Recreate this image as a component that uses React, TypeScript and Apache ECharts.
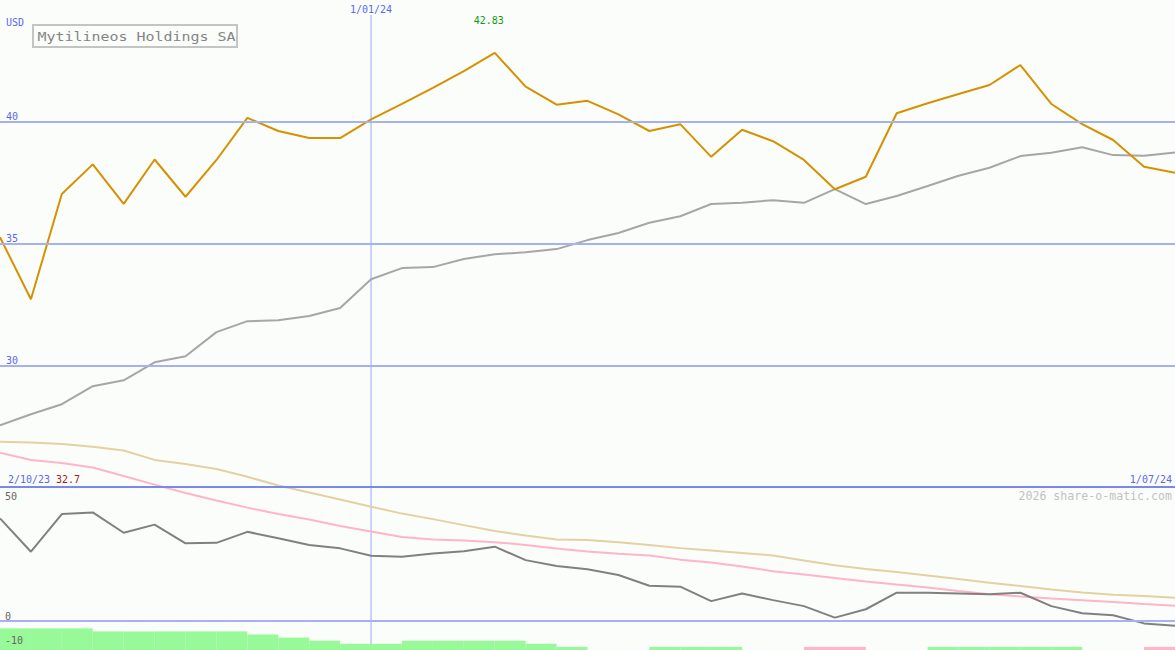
import React, { useEffect, useRef } from "react";
import * as echarts from "echarts";

// Weekly points
const dates: string[] = [
  "9/10/23", "16/10/23", "23/10/23", "30/10/23", "6/11/23", "13/11/23", "20/11/23", "27/11/23",
  "4/12/23", "11/12/23", "18/12/23", "25/12/23", "1/01/24", "8/01/24", "15/01/24", "22/01/24",
  "29/01/24", "5/02/24", "12/02/24", "19/02/24", "26/02/24", "4/03/24", "11/03/24", "18/03/24",
  "25/03/24", "1/04/24", "8/04/24", "15/04/24", "22/04/24", "29/04/24", "6/05/24", "13/05/24",
  "20/05/24", "27/05/24", "3/06/24", "10/06/24", "17/06/24", "24/06/24", "1/07/24",
];
const startLabel = "2/10/23";
const markIndex = 12;

// Price (USD)
const price: number[] = [
  35.26, 32.71, 37.03, 38.25, 36.63, 38.45, 36.92, 38.43, 40.16, 39.62,
  39.33, 39.33, 40.10, 40.73, 41.39, 42.08, 42.83, 41.44, 40.70, 40.86,
  40.30, 39.62, 39.90, 38.56, 39.67, 39.20, 38.43, 37.23, 37.74, 40.35,
  40.76, 41.14, 41.51, 42.33, 40.73, 39.90, 39.25, 38.15, 37.90,
];
// Moving average of price
const priceMA: number[] = [
  27.53, 27.99, 28.40, 29.14, 29.38, 30.12, 30.37, 31.36, 31.81, 31.85,
  32.02, 32.35, 33.53, 33.99, 34.03, 34.36, 34.56, 34.64, 34.77, 35.14,
  35.43, 35.85, 36.12, 36.62, 36.67, 36.78, 36.67, 37.23, 36.62, 36.95,
  37.36, 37.78, 38.11, 38.59, 38.73, 38.95, 38.63, 38.60, 38.74,
];
// Lower panel indicator
const oscillator: number[] = [
  42.9, 29.0, 44.7, 45.4, 36.9, 40.3, 32.5, 32.7, 37.3, 34.6,
  31.8, 30.4, 27.3, 26.9, 28.3, 29.2, 31.1, 25.5, 23.0, 21.7,
  19.3, 14.8, 14.4, 8.4, 11.6, 8.8, 6.3, 1.5, 5.0, 11.9,
  11.9, 11.6, 11.3, 11.9, 6.3, 3.3, 2.5, -0.9, -1.9,
];
const slowAvg: number[] = [
  74.9, 74.6, 73.9, 72.8, 71.2, 67.3, 65.6, 63.5, 60.3, 56.6,
  53.7, 50.8, 47.8, 44.9, 42.6, 40.1, 37.6, 35.8, 34.1, 33.9,
  33.0, 31.8, 30.5, 29.5, 28.5, 27.4, 25.3, 23.4, 21.8, 20.5,
  19.1, 17.6, 16.1, 14.7, 13.2, 12.0, 11.1, 10.5, 9.8,
];
const fastAvg: number[] = [
  70.3, 67.3, 66.0, 64.1, 60.6, 57.0, 53.5, 50.4, 47.4, 44.7,
  42.4, 39.7, 37.4, 35.1, 34.1, 33.7, 33.0, 31.8, 30.3, 29.1,
  28.2, 27.4, 25.7, 24.5, 22.8, 20.9, 19.5, 18.0, 16.6, 15.3,
  14.1, 12.6, 11.3, 10.3, 9.5, 8.8, 8.0, 7.2, 6.5,
];
// Histogram per week interval
const histUp: number[] = [
  7, 7, 7, 6, 6, 6, 6, 6, 5, 4, 3, 2, 2, 3, 3, 3, 3, 2, 1, 0,
  0, 1, 1, 1, 0, 0, 0, 0, 0, 0, 1, 1, 1, 1, 1, 0, 0, 0,
];
const histDown: number[] = [
  0, 0, 0, 0, 0, 0, 0, 0, 0, 0, 0, 0, 0, 0, 0, 0, 0, 0, 0, 0,
  0, 0, 0, 0, 0, 0, 1, 1, 0, 0, 0, 0, 0, 0, 0, 0, 0, 1,
];

const intervals = dates.slice(0, dates.length - 1);
const MONO = "DejaVu Sans Mono";
const BLUE = "#5a68f2";
const GRID = "#a4b2f2";
const VLINE = "#98a8f4";

export default function App() {
  const ref = useRef<HTMLDivElement>(null);
  useEffect(() => {
    const chart = echarts.init(ref.current!, null, { renderer: "svg" });
    const minPrice = Math.min(...price);
    const markTop = 45 - 15 / (487 / 20);
    const option: any = {
      animation: false,
      backgroundColor: "#fbfdfb",
      grid: [
        { left: 0, right: 0, top: 0, height: 487 },
        { left: 0, right: 0, top: 487, height: 163 },
      ],
      xAxis: [
        { type: "category", gridIndex: 0, data: dates, boundaryGap: false, show: false },
        { type: "category", gridIndex: 1, data: dates, boundaryGap: false, show: false },
        { type: "category", gridIndex: 1, data: intervals, boundaryGap: true, show: false },
      ],
      yAxis: [
        {
          type: "value", gridIndex: 0, min: 25, max: 45, interval: 5, z: 10,
          axisLine: { show: false }, axisTick: { show: false }, splitLine: { show: false },
          axisLabel: {
            inside: true, margin: 6, verticalAlign: "bottom", color: BLUE,
            fontFamily: MONO, fontSize: 10,
            formatter: (v: number) => (v === 30 || v === 35 || v === 40 ? String(v) : ""),
          },
        },
        {
          type: "value", gridIndex: 1, min: -12, max: 56, interval: 2, z: 10,
          axisLine: { show: false }, axisTick: { show: false }, splitLine: { show: false },
          axisLabel: {
            inside: true, margin: 5, verticalAlign: "bottom", color: "#666666",
            fontFamily: MONO, fontSize: 10,
            formatter: (v: number) => (v === 50 || v === 0 || v === -10 ? String(v) : ""),
          },
        },
        { type: "value", gridIndex: 1, min: 0, max: 163 / 3.1, show: false },
      ],
      series: [
        {
          type: "line", name: "MarkerTop", xAxisIndex: 0, yAxisIndex: 0,
          data: [
            [dates[markIndex], 25],
            {
              value: [dates[markIndex], markTop],
              label: {
                show: true, position: "top", distance: 1, formatter: dates[markIndex],
                color: BLUE, fontFamily: MONO, fontSize: 10,
              },
            },
          ],
          symbol: "circle", symbolSize: 0, silent: true,
          itemStyle: { color: VLINE },
          lineStyle: { color: VLINE, width: 1 }, z: 1,
        },
        {
          type: "line", name: "MarkerBottom", xAxisIndex: 1, yAxisIndex: 1,
          data: [[dates[markIndex], 56], [dates[markIndex], -12]],
          symbol: "none", silent: true,
          lineStyle: { color: VLINE, width: 1 }, z: 1,
        },
        {
          type: "line", name: "MA", xAxisIndex: 0, yAxisIndex: 0, data: priceMA,
          symbol: "none", lineStyle: { color: "#a6a6a6", width: 2 }, z: 3,
          markLine: {
            silent: true, symbol: ["none", "none"], label: { show: false },
            lineStyle: { color: GRID, width: 2, type: "solid" },
            data: [
              { yAxis: 30 }, { yAxis: 35 }, { yAxis: 40 },
              { yAxis: 25, lineStyle: { color: "#7a88ee", width: 2, type: "solid" } },
            ],
          },
        },
        {
          type: "line", name: "Price", xAxisIndex: 0, yAxisIndex: 0, data: price,
          symbol: "none", lineStyle: { color: "#d69100", width: 2 }, z: 4,
          markPoint: {
            symbol: "circle", symbolSize: 0,
            data: [{ type: "max" }],
            label: {
              show: true, position: "top", distance: 27, offset: [-6, 0],
              color: "#139a13", fontFamily: MONO, fontSize: 10,
              formatter: (p: any) => Number(p.value).toFixed(2),
            },
          },
        },
        {
          type: "line", name: "Slow", xAxisIndex: 1, yAxisIndex: 1, data: slowAvg,
          symbol: "none", clip: false, lineStyle: { color: "#e5d0a2", width: 2 }, z: 3,
        },
        {
          type: "line", name: "Fast", xAxisIndex: 1, yAxisIndex: 1, data: fastAvg,
          symbol: "none", clip: false, lineStyle: { color: "#ffb4c8", width: 2 }, z: 3,
        },
        {
          type: "line", name: "Indicator", xAxisIndex: 1, yAxisIndex: 1, data: oscillator,
          symbol: "none", clip: false, lineStyle: { color: "#808080", width: 2 }, z: 4,
          markLine: {
            silent: true, symbol: ["none", "none"], label: { show: false },
            lineStyle: { color: GRID, width: 2, type: "solid" },
            data: [{ yAxis: 0 }],
          },
        },
        {
          type: "bar", name: "Up", xAxisIndex: 2, yAxisIndex: 2, data: histUp,
          barCategoryGap: "0%", barGap: "-100%", itemStyle: { color: "#98f998" }, z: 6,
        },
        {
          type: "bar", name: "Down", xAxisIndex: 2, yAxisIndex: 2, data: histDown,
          barCategoryGap: "0%", barGap: "-100%", itemStyle: { color: "#ffb6c9" }, z: 6,
        },
      ],
      graphic: [
        {
          type: "text", left: 6, top: 17,
          style: { text: "USD", fill: BLUE, font: `10px '${MONO}'` },
        },
        {
          type: "rect", shape: { x: 33, y: 25, width: 204, height: 22 },
          style: { fill: "transparent", stroke: "#c4c4c4", lineWidth: 2 },
        },
        {
          type: "text", x: 37.5, y: 36, scaleX: 1.15,
          style: {
            text: "Mytilineos Holdings SA", fill: "#858585", font: `13px '${MONO}'`,
            textAlign: "left", textVerticalAlign: "middle",
          },
        },
        {
          type: "text", x: 8, y: 479,
          style: { text: startLabel, fill: BLUE, font: `10px '${MONO}'`, textVerticalAlign: "middle" },
        },
        {
          type: "text", x: 56, y: 479,
          style: { text: minPrice.toFixed(1), fill: "#a51c1c", font: `10px '${MONO}'`, textVerticalAlign: "middle" },
        },
        {
          type: "text", x: 1172, y: 479,
          style: {
            text: dates[dates.length - 1], fill: BLUE, font: `10px '${MONO}'`,
            textAlign: "right", textVerticalAlign: "middle",
          },
        },
        {
          type: "text", x: 1172, y: 496,
          style: {
            text: "2026 share-o-matic.com", fill: "#c2c2c2", font: `11.6px '${MONO}'`,
            textAlign: "right", textVerticalAlign: "middle",
          },
        },
      ],
    };
    chart.setOption(option);
    return () => chart.dispose();
  }, []);
  return (
    <div
      ref={ref}
      style={{ position: "fixed", left: 0, top: 0, width: 1175, height: 650 }}
    />
  );
}
